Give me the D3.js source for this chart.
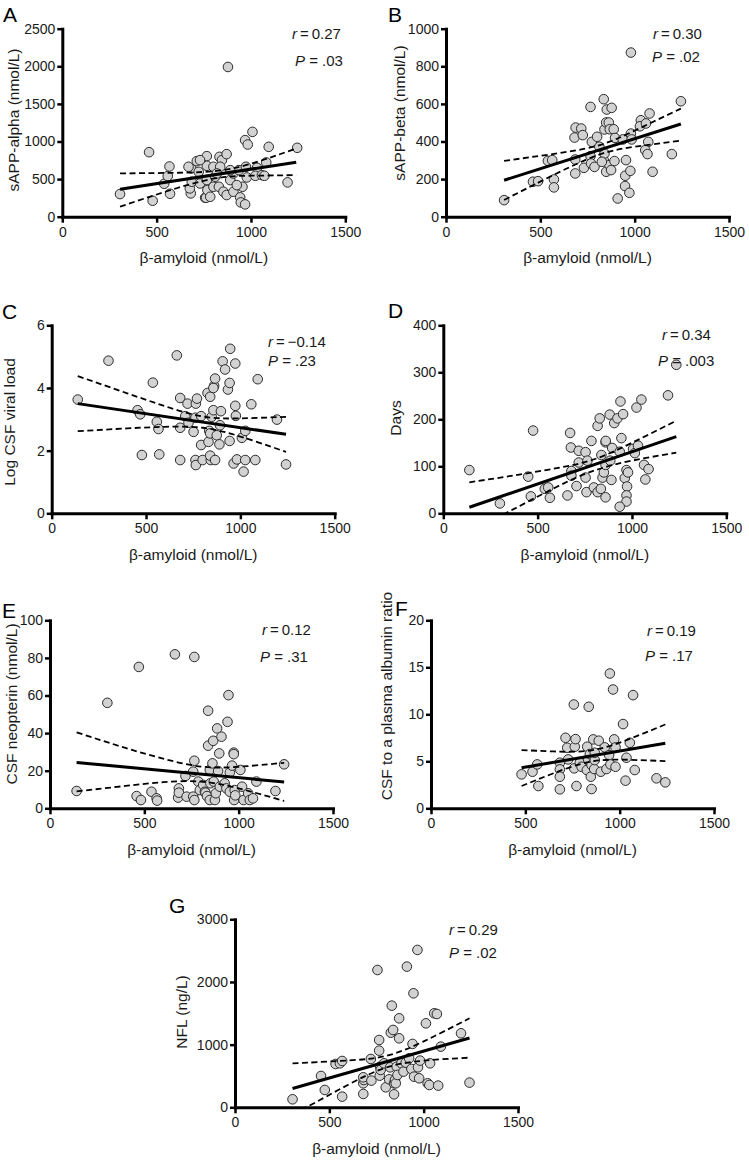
<!DOCTYPE html>
<html>
<head>
<meta charset="utf-8">
<script src="https://cdn.jsdelivr.net/npm/d3@7"></script>
<style>
  body { margin: 0; background: #fff; }
  svg { display: block; font-family: "Liberation Sans", Arial, Helvetica, sans-serif; }
</style>
</head>
<body>
<svg id="chart" width="749" height="1160"></svg>
<script>
// shared x axis (beta-amyloid, nmol/L)
var xTicks = [0, 500, 1000, 1500];
var xTitle = "\u03b2-amyloid (nmol/L)";

// ---- A: sAPP-alpha
var amyA = [306,460,479,540,568,559,571,683,713,681,676,686,723,730,766,766,757,762,769,766,801,801,830,833,846,871,854,871,890,907,936,907,878,837,969,983,1008,973,978,943,946,969,955,1032,1023,1058,1081,1094,1071,1194,1245,810,819,890,784,925,730,669];
var sappAlpha = [301,858,212,438,668,540,305,642,739,310,376,465,597,442,805,677,252,252,354,487,664,398,398,796,752,832,332,288,487,575,619,332,1991,664,1018,960,1128,664,522,257,190,164,398,650,544,553,721,929,544,456,916,531,575,619,265,420,752,664];
var ticksA = [0, 500, 1000, 1500, 2000, 2500];
var fitA = [[306, 364], [1240, 725]];
var bandAx = [306, 550, 800, 1000, 1240];
var bandAhi = [576, 582, 605, 705, 907];
var bandAlo = [133, 335, 505, 545, 553];

// ---- B: sAPP-beta
var amyB = [308,461,488,540,563,572,572,685,685,681,687,717,725,731,766,773,766,769,787,801,836,840,849,852,863,878,868,889,896,836,840,849,866,875,893,826,813,910,937,954,950,949,972,977,980,984,980,1033,1028,1060,1079,1072,1056,1068,1095,1197,1245];
var sappBeta = [88,186,189,297,301,198,156,304,230,421,474,469,434,260,584,398,322,283,265,425,625,464,501,570,501,579,465,465,419,301,336,239,274,248,296,292,372,97,411,301,218,163,127,244,442,411,873,513,481,496,549,398,354,333,239,333,614];
var ticksB = [0, 200, 400, 600, 800, 1000];
var fitB = [[308, 194], [1245, 493]];
var bandBx = [308, 550, 800, 1000, 1245];
var bandBhi = [297, 331, 377, 458, 575];
var bandBlo = [89, 212, 326, 372, 405];

// ---- C: log CSF viral load
var amyC = [138,301,455,469,478,536,557,566,570,663,681,681,681,720,708,725,752,764,770,762,762,764,792,792,800,826,840,843,840,835,831,840,848,857,861,857,866,866,875,889,892,897,906,919,934,943,946,943,964,973,973,976,982,1008,1017,1026,1026,1058,1079,1092,1194,1242];
var viralLoad = [3.63,4.87,3.29,3.16,1.86,4.17,2.92,2.69,1.88,5.04,3.68,2.73,1.70,3.50,3.10,2.89,2.60,3.50,3.66,3.05,1.70,1.54,3.10,2.18,1.70,3.84,3.72,1.70,1.84,2.63,2.28,2.55,3.08,3.29,4.07,4.00,4.30,1.70,2.49,2.20,2.81,3.26,4.85,4.59,3.95,4.16,5.25,2.31,1.59,4.78,3.43,3.11,1.72,2.41,1.33,2.63,1.70,3.48,1.70,4.28,2.99,1.56];
var ticksC = [0, 2, 4, 6];
var fitC = [[138, 3.50], [1242, 2.52]];
var bandCx = [138, 400, 600, 800, 1000, 1242];
var bandChi = [4.38, 3.83, 3.42, 3.09, 3.03, 3.08];
var bandClo = [2.62, 2.71, 2.76, 2.73, 2.45, 1.96];

// ---- D: days
var amyD = [138,300,450,464,476,538,556,565,658,672,676,679,679,706,718,718,754,754,759,764,785,798,818,818,829,835,838,844,851,860,860,860,861,882,885,891,895,906,923,935,944,939,953,962,971,974,971,971,935,979,1006,1015,1024,1032,1050,1064,1071,1088,1191,1235];
var days = [92,21,78,36,176,52,55,33,38,171,140,90,80,58,133,108,130,76,45,112,154,55,45,186,202,52,124,76,87,103,151,34,154,210,112,71,139,192,202,131,160,238,211,75,92,57,38,25,14,87,137,128,225,144,242,103,72,94,251,316];
var ticksD = [0, 100, 200, 300, 400];
var fitD = [[138, 12.8], [1235, 163]];
var bandDx = [138, 350, 600, 800, 1000, 1235];
var bandDhi = [66, 79, 96, 115, 150, 197];
var bandDlo = [-40, 4, 56, 91, 112, 129];

// ---- E: CSF neopterin
var amyE = [141,304,459,482,471,538,565,568,662,679,683,683,724,718,759,759,765,765,765,786,794,812,821,824,832,838,838,847,847,850,861,865,868,874,879,886,891,897,900,909,926,935,941,946,953,953,965,974,974,979,976,982,1009,1018,1026,1050,1059,1076,1094,1195,1241];
var neopterin = [9.2,56.1,6.5,4.4,75.2,8.8,5.3,4.1,81.9,5.7,10.6,8.3,6.2,17.2,19.5,6.2,80.5,25.3,4.4,14.2,9.7,12.4,8.8,8.3,6.5,51.9,33.3,20.4,4.4,13.3,23.9,35.9,14.2,4.4,8.0,42.5,19.8,29.2,11.5,38.1,13.3,10.6,46.0,60.2,19.1,8.8,22.7,29.6,28.8,9.7,4.4,6.9,20.4,11.5,4.4,8.0,4.4,5.3,14.2,9.2,23.4];
var ticksE = [0, 20, 40, 60, 80, 100];
var fitE = [[141, 24.4], [1241, 14.0]];
var bandEx = [141, 400, 600, 800, 1000, 1241];
var bandEhi = [40.4, 32.1, 26.4, 22.2, 22.1, 24.2];
var bandElo = [9.0, 11.9, 13.9, 14.2, 10.6, 3.9];

// ---- F: CSF to plasma albumin ratio
var amyF = [480,538,563,569,683,683,683,683,713,722,727,757,762,766,759,771,789,798,828,826,836,833,842,847,851,851,860,865,868,868,889,900,921,930,944,948,951,965,971,978,978,1018,1031,1036,1054,1071,1080,1195,1242];
var albumin = [3.61,3.89,4.67,2.37,4.85,4.14,3.36,2.02,7.50,6.44,5.20,11.04,6.55,7.36,4.25,2.37,4.85,4.42,6.55,4.07,10.80,5.20,5.77,3.36,2.05,4.60,7.33,4.18,5.13,5.91,7.19,3.89,6.48,4.18,5.66,14.34,4.67,12.64,7.33,6.48,4.42,8.96,2.94,5.38,6.97,12.04,4.07,3.19,2.76];
var ticksF = [0, 5, 10, 15, 20];
var fitF = [[480, 4.31], [1242, 6.92]];
var bandFx = [480, 650, 850, 1050, 1242];
var bandFhi = [6.19, 6.05, 6.17, 7.36, 8.92];
var bandFlo = [2.37, 3.73, 4.97, 5.16, 5.02];

// ---- G: NFL
var amyG = [305,456,476,533,556,568,568,680,680,683,680,723,720,755,764,764,767,769,772,790,799,817,822,826,831,838,843,843,848,852,857,861,870,870,882,893,905,911,923,935,941,949,946,967,970,976,981,1012,1021,1034,1030,1056,1070,1077,1091,1198,1243];
var nfl = [128,500,277,691,702,739,170,213,383,436,479,426,771,2191,1074,904,505,649,596,702,319,447,638,1191,1622,1234,383,207,436,383,649,516,1101,1420,702,569,713,2245,782,612,1011,489,1819,2511,638,463,745,1340,383,702,356,1500,1489,346,968,1181,394];
var ticksG = [0, 1000, 2000, 3000];
var fitG = [[305, 301], [1243, 1106]];
var bandGx = [305, 390, 600, 800, 1000, 1243];
var bandGhi = [702, 713, 748, 819, 1052, 1420];
var bandGlo = [-96, 20, 360, 633, 744, 792];

var rValues = ["0.27", "0.30", "\u22120.14", "0.34", "0.12", "0.19", "0.29"];
var pValues = [".03", ".02", ".23", ".003", ".31", ".17", ".02"];

var panels = [
  { letter: "A", xs: amyA, ys: sappAlpha, ticks: ticksA, title: "sAPP-alpha (nmol/L)", fit: fitA, bx: bandAx, hi: bandAhi, lo: bandAlo,
    left: 62.3, bottom: 216.7, letterPos: [3, 22], titlePos: [14, 120], rPos: [292, 39], pPos: [295, 66] },
  { letter: "B", xs: amyB, ys: sappBeta, ticks: ticksB, title: "sAPP-beta (nmol/L)", fit: fitB, bx: bandBx, hi: bandBhi, lo: bandBlo,
    left: 446, bottom: 216.7, letterPos: [388, 22], titlePos: [400, 113], rPos: [653, 39], pPos: [652, 62] },
  { letter: "C", xs: amyC, ys: viralLoad, ticks: ticksC, title: "Log CSF viral load", fit: fitC, bx: bandCx, hi: bandChi, lo: bandClo,
    left: 51.7, bottom: 513.3, letterPos: [2, 319], titlePos: [10, 422], rPos: [268, 347], pPos: [268, 366] },
  { letter: "D", xs: amyD, ys: days, ticks: ticksD, title: "Days", fit: fitD, bx: bandDx, hi: bandDhi, lo: bandDlo,
    left: 443.3, bottom: 513.3, letterPos: [388, 318], titlePos: [396, 418], rPos: [662, 340], pPos: [658, 366] },
  { letter: "E", xs: amyE, ys: neopterin, ticks: ticksE, title: "CSF neopterin (nmol/L)", fit: fitE, bx: bandEx, hi: bandEhi, lo: bandElo,
    left: 50, bottom: 808.3, letterPos: [2, 618], titlePos: [12, 704], rPos: [262, 635], pPos: [260, 662] },
  { letter: "F", xs: amyF, ys: albumin, ticks: ticksF, title: "CSF to a plasma albumin ratio", fit: fitF, bx: bandFx, hi: bandFhi, lo: bandFlo,
    left: 431, bottom: 808.3, letterPos: [395, 616], titlePos: [387, 696], rPos: [647, 636], pPos: [645, 661] },
  { letter: "G", xs: amyG, ys: nfl, ticks: ticksG, title: "NFL (ng/L)", fit: fitG, bx: bandGx, hi: bandGhi, lo: bandGlo,
    left: 235, bottom: 1107.3, letterPos: [169, 913], titlePos: [182, 1012], rPos: [449, 935], pPos: [449, 958] }
];

var W = 283, H = 188;
var svg = d3.select("#chart");
svg.append("rect").attr("width", 749).attr("height", 1160).attr("fill", "#fff");

panels.forEach(function(p, i) {
  var x = d3.scaleLinear().domain([0, 1500]).range([p.left, p.left + W]);
  var y = d3.scaleLinear().domain([0, d3.max(p.ticks)]).range([p.bottom, p.bottom - H]);
  var g = svg.append("g");

  g.append("clipPath").attr("id", "clip" + p.letter)
    .append("rect")
    .attr("x", p.left).attr("y", p.bottom - H - 5)
    .attr("width", W).attr("height", H + 5);

  // points
  g.append("g").selectAll("circle")
    .data(p.xs)
    .enter()
    .append("circle")
    .attr("cx", function(d) { return x(d); })
    .attr("cy", function(d, j) { return y(p.ys[j]); })
    .attr("r", 4.8)
    .attr("fill", "#d2d2d2")
    .attr("stroke", "#2b2b2b")
    .attr("stroke-width", 1);

  // 95% bands and fit
  var band = d3.line()
    .x(function(d) { return x(d[0]); })
    .y(function(d) { return y(d[1]); })
    .curve(d3.curveNatural);
  [p.hi, p.lo].forEach(function(vals) {
    g.append("path")
      .datum(p.bx.map(function(v, j) { return [v, vals[j]]; }))
      .attr("d", band)
      .attr("clip-path", "url(#clip" + p.letter + ")")
      .attr("fill", "none")
      .attr("stroke", "#000")
      .attr("stroke-width", 1.8)
      .attr("stroke-dasharray", "6,3.5");
  });
  g.append("path")
    .datum(p.fit)
    .attr("d", d3.line().x(function(d) { return x(d[0]); }).y(function(d) { return y(d[1]); }))
    .attr("fill", "none")
    .attr("stroke", "#000")
    .attr("stroke-width", 3);

  // axes
  var xAxis = g.append("g")
    .attr("transform", "translate(0," + p.bottom + ")")
    .call(d3.axisBottom(x).tickValues(xTicks).tickFormat(d3.format("d")).tickSize(6).tickSizeOuter(0).tickPadding(4));
  var yAxis = g.append("g")
    .attr("transform", "translate(" + p.left + ",0)")
    .call(d3.axisLeft(y).tickValues(p.ticks).tickFormat(d3.format("d")).tickSize(5).tickSizeOuter(0).tickPadding(2));
  [xAxis, yAxis].forEach(function(a) {
    a.attr("font-family", null).attr("font-size", 14);
    a.select(".domain").attr("stroke", "#000").attr("stroke-width", 3).attr("stroke-linecap", "square");
    a.selectAll(".tick line").attr("stroke", "#000").attr("stroke-width", 2.5);
    a.selectAll(".tick text").attr("fill", "#1a1a1a");
  });

  // titles
  g.append("text")
    .attr("x", p.left + W / 2)
    .attr("y", p.bottom + 46.5)
    .attr("text-anchor", "middle")
    .attr("font-size", 15.5)
    .attr("fill", "#1a1a1a")
    .text(xTitle);
  g.append("text")
    .attr("transform", "translate(" + p.titlePos[0] + "," + p.titlePos[1] + ") rotate(-90)")
    .attr("dy", "0.3em")
    .attr("text-anchor", "middle")
    .attr("font-size", 15.5)
    .attr("fill", "#1a1a1a")
    .text(p.title);
  g.append("text")
    .attr("x", p.letterPos[0]).attr("y", p.letterPos[1])
    .attr("font-size", 21)
    .attr("fill", "#000")
    .text(p.letter);

  // r and P
  var rt = g.append("text").attr("x", p.rPos[0]).attr("y", p.rPos[1]).attr("font-size", 15).attr("fill", "#1a1a1a");
  rt.append("tspan").attr("font-style", "italic").text("r");
  rt.append("tspan").text("\u2009=\u2009" + rValues[i]);
  var pt = g.append("text").attr("x", p.pPos[0]).attr("y", p.pPos[1]).attr("font-size", 15).attr("fill", "#1a1a1a");
  pt.append("tspan").attr("font-style", "italic").text("P");
  pt.append("tspan").text(" = " + pValues[i]);
});
</script>
</body>
</html>
